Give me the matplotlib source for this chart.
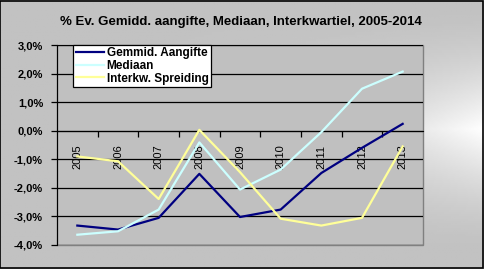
import numpy as np
import matplotlib
matplotlib.use("Agg")
import matplotlib.pyplot as plt
from matplotlib.ticker import FuncFormatter, FixedLocator

plt.rcParams["font.family"] = ["Liberation Sans", "DejaVu Sans"]

# data (percent)
years = ["2005", "2006", "2007", "2008", "2009", "2010", "2011", "2012", "2013"]
gemmid = [-3.32, -3.46, -3.05, -1.51, -3.02, -2.76, -1.48, -0.60, 0.24]
mediaan = [-3.64, -3.52, -2.76, -0.41, -2.06, -1.36, -0.05, 1.47, 2.07]
interkw = [-0.90, -1.07, -2.39, 0.03, -1.45, -3.08, -3.32, -3.05, -0.55]
yticks = [-4, -3, -2, -1, 0, 1, 2, 3]

W, H = 484, 269
fig = plt.figure(figsize=(W / 100, H / 100), dpi=100)

# gradient chart area background
bg = fig.add_axes([0, 0, 1, 1])
gx = np.linspace(0, 1, 200)
gy = np.linspace(0, 1, 120)
X, Y = np.meshgrid(gx, gy)
light = 0.76 + 0.24 * (X ** 3) * np.clip(1 - np.abs(Y - 0.48) / 0.45, 0, 1) ** 1.5
bg.imshow(light, cmap="gray", vmin=0, vmax=1, aspect="auto", extent=[0, 1, 0, 1])
bg.set_xlim(0, 1)
bg.set_ylim(0, 1)
bg.axis("off")
fig.patches.append(plt.Rectangle((0.001, 0.002), 0.997, 0.995, transform=fig.transFigure,
                                 fill=False, edgecolor="black", linewidth=1.2))

ax = fig.add_axes([57 / W, 24 / H, 366 / W, 200 / H])
ax.set_facecolor("#C0C0C0")
ax.patch.set_edgecolor("#808080")
ax.patch.set_linewidth(1.0)

x = np.arange(len(years))
ax.plot(x, gemmid, color="#000080", linewidth=1.6, label="Gemmid. Aangifte", zorder=3)
ax.plot(x, mediaan, color="#CCFFFF", linewidth=1.6, label="Mediaan", zorder=3)
ax.plot(x, interkw, color="#FFFF99", linewidth=1.6, label="Interkw. Spreiding", zorder=3)

ax.set_xlim(-0.5, len(years) - 0.5)
ax.set_ylim(-4, 3)
ax.set_yticks(yticks)
ax.yaxis.set_major_formatter(FuncFormatter(lambda v, p: f"{v:.1f}%".replace(".", ",")))
ax.yaxis.grid(True, color="black", linewidth=0.9)
ax.set_axisbelow(True)
for lab in ax.get_yticklabels():
    lab.set_fontweight("bold")
    lab.set_fontsize(8)
ax.tick_params(axis="y", direction="out", length=4, width=0.9, pad=6)

ax.spines["top"].set_visible(False)
ax.spines["right"].set_visible(False)
ax.spines["left"].set_color("black")
ax.spines["bottom"].set_position(("data", 0))
ax.spines["bottom"].set_color("black")

ax.xaxis.set_major_locator(FixedLocator(np.arange(0.5, len(years) - 1, 1)))
ax.xaxis.set_major_formatter(FuncFormatter(lambda v, p: ""))
ax.xaxis.set_minor_locator(FixedLocator(x))
ax.set_xticklabels(years, minor=True, rotation=90, fontsize=8)
ax.tick_params(axis="x", which="major", direction="out", length=4, width=0.9)
ax.tick_params(axis="x", which="minor", length=0, pad=10)

leg = ax.legend(loc="upper left", bbox_to_anchor=(0.045, 1.0), frameon=True, fancybox=False,
                edgecolor="black", framealpha=1, facecolor="white", fontsize=8.5,
                handlelength=2.4, handletextpad=0.2, labelspacing=0.05, borderpad=0.2,
                borderaxespad=0)
leg.get_frame().set_linewidth(0.9)
for t in leg.get_texts():
    t.set_fontweight("bold")
for l in leg.get_lines():
    l.set_linewidth(1.6)

fig.text(241 / W, 1 - 22 / H, "% Ev. Gemidd. aangifte, Mediaan, Interkwartiel, 2005-2014",
         ha="center", va="center", fontsize=9.5, fontweight="bold")

fig.savefig("out.png", dpi=100)
